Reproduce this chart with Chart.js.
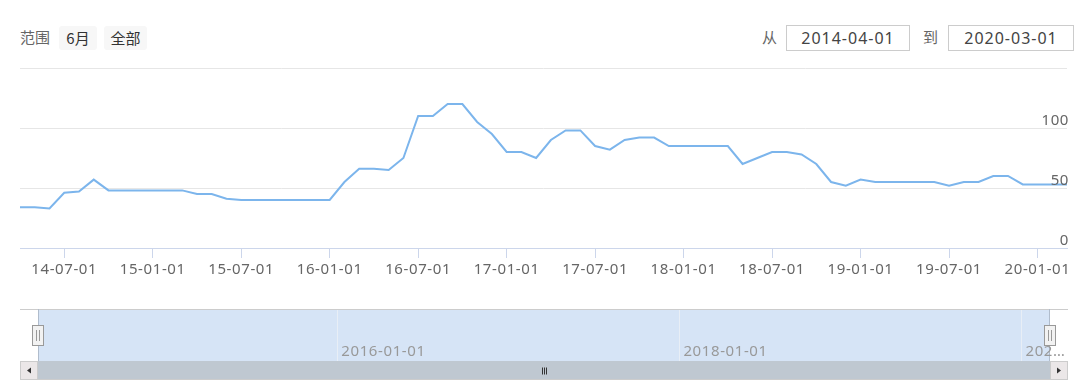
<!DOCTYPE html>
<html><head><meta charset="utf-8">
<script src="https://cdn.jsdelivr.net/npm/chart.js@4/dist/chart.umd.min.js"></script>
<style>
html,body{margin:0;padding:0;background:#fff;}
#wrap{position:relative;width:1080px;height:387px;overflow:hidden;font-family:"Noto Sans CJK SC","Noto Sans",sans-serif;}
#main{position:absolute;left:0;top:0;}
#nav{position:absolute;left:0;top:300px;}
.lbl{position:absolute;top:27px;font-size:15px;color:#666;line-height:20px;}
.btn{position:absolute;top:26px;height:24px;line-height:23px;background:#f7f7f7;border-radius:3px;color:#333;font-size:15px;text-align:center;}
.inp{position:absolute;top:25px;height:26px;border:1px solid #ccc;box-sizing:border-box;font-family:"Noto Sans",sans-serif;font-size:16px;letter-spacing:1px;color:#444;text-align:center;line-height:24px;}
</style></head>
<body>
<div id="wrap">
  <div class="lbl" style="left:20px;">范围</div>
  <div class="btn" style="left:59px;width:38px;">6月</div>
  <div class="btn" style="left:104px;width:43px;">全部</div>
  <div class="lbl" style="left:762px;">从</div>
  <div class="inp" style="left:786px;width:124px;">2014-04-01</div>
  <div class="lbl" style="left:923px;">到</div>
  <div class="inp" style="left:948px;width:126px;">2020-03-01</div>
  <canvas id="main" width="1080" height="290"></canvas>
  <canvas id="nav" width="1080" height="87"></canvas>
</div>
<script>
// Monthly values, 2014-04 .. 2020-03 (index 0 .. 71)
const values = [34,34,33,46,47,57,48,48,48,48,48,48,
                45,45,41,40,40,40,40,40,40,40,55,66,
                66,65,75,110,110,120,120,105,95,80,80,75,
                90,98,98,85,82,90,92,92,85,85,85,85,
                85,70,75,80,80,78,70,55,52,57,55,55,
                55,55,55,52,55,55,60,60,53,53,53,53];
const xTickMonths = [3,9,15,21,27,33,39,45,51,57,63,69];
const xTickLabels = ['14-07-01','15-01-01','15-07-01','16-01-01','16-07-01','17-01-01',
                     '17-07-01','18-01-01','18-07-01','19-01-01','19-07-01','20-01-01'];
const navTickMonths = [21,45,69];
const navTickLabels = ['2016-01-01','2018-01-01','2020-01-01'];
const yMax = 150, yStep = 50;

const FONT = '"Noto Sans","Noto Sans CJK SC",sans-serif';

const spacingPlugin = {
  id:'spacing',
  beforeDraw(chart){ try { chart.ctx.letterSpacing = '0.6px'; } catch(e){} }
};

const yLabelPlugin = {
  id:'yLabels',
  afterDraw(chart){
    const ctx = chart.ctx, ys = chart.scales.y, ca = chart.chartArea;
    ctx.save();
    ctx.font = '15px ' + FONT;
    ctx.fillStyle = '#666';
    ctx.textAlign = 'right';
    ctx.textBaseline = 'alphabetic';
    ys.ticks.forEach(t => {
      if (t.value >= ys.max) return;
      ctx.fillText(String(t.value), ca.right + 2, ys.getPixelForValue(t.value) - 3);
    });
    ctx.restore();
  }
};

new Chart(document.getElementById('main'), {
  type:'line',
  data:{datasets:[{
    data: values.map((v,i)=>({x:i,y:v})),
    borderColor:'#7cb5ec', borderWidth:2, pointRadius:0, tension:0, fill:false
  }]},
  options:{
    responsive:false, animation:false, events:[],
    layout:{padding:{left:20,right:13,top:68,bottom:0}},
    plugins:{legend:{display:false},tooltip:{enabled:false}},
    scales:{
      x:{type:'linear',min:0,max:values.length-1,
        afterBuildTicks:s=>{ s.ticks = xTickMonths.map(v=>({value:v})); },
        afterFit:s=>{ s.height = 42; },
        grid:{drawOnChartArea:false,drawTicks:true,tickLength:10,color:'#ccd6eb',lineWidth:1},
        border:{color:'#ccd6eb',width:1},
        ticks:{autoSkip:false,maxRotation:0,minRotation:0,padding:3,color:'#666',
          font:{family:FONT,size:15},
          callback:(v,i)=>xTickLabels[i]}
      },
      y:{position:'right',min:0,max:yMax,
        ticks:{display:false,stepSize:yStep},
        afterFit:s=>{ s.width = 0; },
        grid:{color:'#e6e6e6',drawTicks:false,lineWidth:1},
        border:{display:false}
      }
    }
  },
  plugins:[spacingPlugin, yLabelPlugin]
});

function fitText(ctx, text, maxW){
  if (ctx.measureText(text).width <= maxW) return text;
  let t = text;
  while (t.length > 1 && ctx.measureText(t + '…').width > maxW) t = t.slice(0,-1);
  return t + '…';
}

const navPlugin = {
  id:'navigator',
  beforeDraw(chart){
    const ctx = chart.ctx, ca = chart.chartArea;
    ctx.save();
    ctx.fillStyle = '#d6e4f6';
    ctx.fillRect(ca.left, ca.top, ca.right-ca.left, ca.bottom-ca.top);
    ctx.restore();
  },
  afterDraw(chart){
    const ctx = chart.ctx, ca = chart.chartArea, xs = chart.scales.x;
    const L = 20, R = 1068;
    ctx.save();
    // outline
    ctx.strokeStyle = '#cccccc'; ctx.lineWidth = 1;
    ctx.beginPath(); ctx.moveTo(L, ca.top+0.5); ctx.lineTo(R, ca.top+0.5); ctx.stroke();
    ctx.strokeStyle = '#b0bccc';
    ctx.beginPath();
    ctx.moveTo(ca.left+0.5, ca.top); ctx.lineTo(ca.left+0.5, ca.bottom);
    ctx.moveTo(ca.right-0.5, ca.top); ctx.lineTo(ca.right-0.5, ca.bottom);
    ctx.stroke();
    // labels
    try { ctx.letterSpacing = '0.6px'; } catch(e){}
    ctx.font = '15px ' + FONT;
    ctx.fillStyle = '#999';
    ctx.textAlign = 'left'; ctx.textBaseline = 'alphabetic';
    navTickMonths.forEach((m,i) => {
      const x = xs.getPixelForValue(m) + 4;
      ctx.fillText(fitText(ctx, navTickLabels[i], R - x), x, ca.bottom - 5);
    });
    try { ctx.letterSpacing = '0px'; } catch(e){}
    // handles
    [ca.left, ca.right].forEach(hx => {
      const x0 = Math.round(hx) - 5.5;
      ctx.fillStyle = '#f2f2f2'; ctx.strokeStyle = '#999';
      ctx.fillRect(x0, 25.5, 11, 20); ctx.strokeRect(x0, 25.5, 11, 20);
      ctx.beginPath();
      ctx.moveTo(x0+4, 30); ctx.lineTo(x0+4, 41);
      ctx.moveTo(x0+7, 30); ctx.lineTo(x0+7, 41);
      ctx.stroke();
    });
    // scrollbar
    const sy = ca.bottom, sh = 19;
    ctx.fillStyle = '#f2f2f2'; ctx.fillRect(L, sy, R-L, sh);
    ctx.fillStyle = '#bfc8d1'; ctx.fillRect(ca.left, sy, ca.right-ca.left, sh);
    ctx.fillStyle = '#ebe7e8'; ctx.strokeStyle = '#cccccc';
    ctx.fillRect(L, sy, ca.left-L, sh); ctx.strokeRect(L+0.5, sy+0.5, ca.left-L-1, sh-1);
    ctx.fillRect(ca.right, sy, R-ca.right, sh); ctx.strokeRect(ca.right+0.5, sy+0.5, R-ca.right-1, sh-1);
    ctx.strokeStyle='#cccccc'; ctx.beginPath(); ctx.moveTo(L, sy+sh-0.5); ctx.lineTo(R, sy+sh-0.5); ctx.stroke();
    // arrows
    ctx.fillStyle = '#333';
    const cyA = sy + sh/2;
    const lc = (L + ca.left)/2, rc = (ca.right + R)/2;
    ctx.beginPath(); ctx.moveTo(lc+2, cyA-3); ctx.lineTo(lc-2, cyA); ctx.lineTo(lc+2, cyA+3); ctx.closePath(); ctx.fill();
    ctx.beginPath(); ctx.moveTo(rc-2, cyA-3); ctx.lineTo(rc+2, cyA); ctx.lineTo(rc-2, cyA+3); ctx.closePath(); ctx.fill();
    // rifles
    const mc = Math.round((ca.left + ca.right)/2) + 0.5;
    ctx.strokeStyle = '#333';
    ctx.beginPath();
    [-2,0,2].forEach(d => { ctx.moveTo(mc+d, cyA-3); ctx.lineTo(mc+d, cyA+4); });
    ctx.stroke();
    ctx.restore();
  }
};

new Chart(document.getElementById('nav'), {
  type:'line',
  data:{datasets:[]},
  options:{
    responsive:false, animation:false, events:[],
    layout:{padding:{left:38,right:30,top:9,bottom:26}},
    plugins:{legend:{display:false},tooltip:{enabled:false}},
    scales:{
      x:{type:'linear',min:0,max:values.length-1,
        afterBuildTicks:s=>{ s.ticks = navTickMonths.map(v=>({value:v})); },
        afterFit:s=>{ s.height = 0; },
        ticks:{display:false},
        grid:{drawTicks:false,color:'#e8eef6',lineWidth:1},
        border:{display:false}
      },
      y:{display:false,min:0,max:yMax}
    }
  },
  plugins:[navPlugin]
});
</script>
</body></html>
